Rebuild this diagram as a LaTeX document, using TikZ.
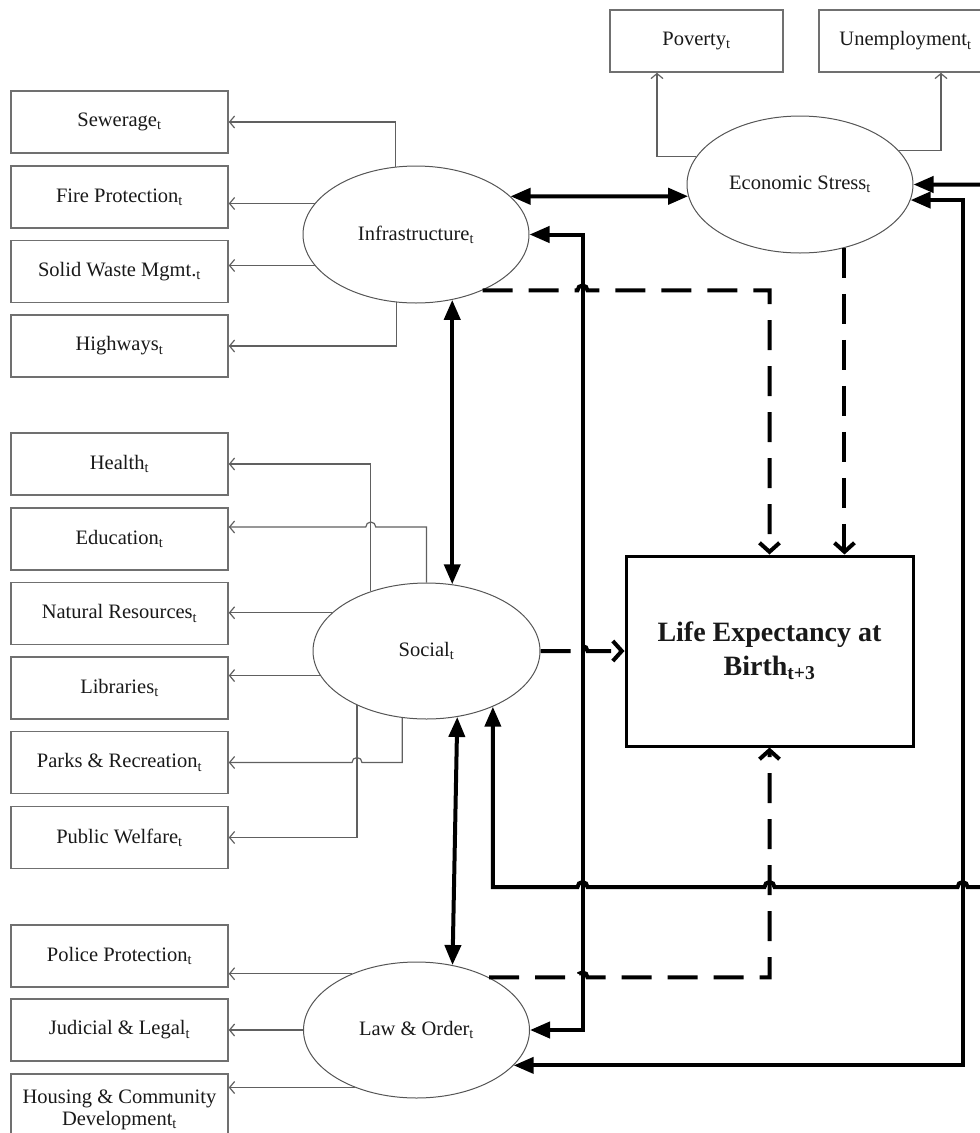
\documentclass[tikz,border=0pt]{standalone}
\usepackage{fontspec}
\setmainfont{Liberation Serif}
\usetikzlibrary{arrows.meta,shapes.geometric,calc}
\definecolor{boxgray}{HTML}{707070}
\definecolor{linegray}{HTML}{606060}
\definecolor{ellgray}{HTML}{555555}
\begin{document}
\begin{tikzpicture}[x=1pt,y=-1pt,
  every node/.style={font=\fontsize{20.5}{23}\selectfont, inner sep=0pt, text=black!90},
  ind/.style={draw=boxgray, line width=1.6pt, minimum width=217pt, minimum height=62pt, align=center},
  lat/.style={ellipse, draw=ellgray, line width=1pt, minimum width=226pt, minimum height=137pt},
  meas/.style={draw=linegray, line width=1.2pt, -{Straight Barb[length=5pt,width=12pt]}},
  cov/.style={line width=4pt, {Triangle[length=20pt,width=16pt]}-{Triangle[length=20pt,width=16pt]}},
  eff/.style={line width=4pt, dash pattern=on 30pt off 16pt, -{Straight Barb[length=9pt,width=20pt]}},
]
\useasboundingbox (0,0) rectangle (980,1133);
\clip (0,0) rectangle (980,1133);

% indicator boxes
\node[ind] (sew)    at (119.5,122)   {Sewerage\textsubscript{t}};
\node[ind] (fire)   at (119.5,197)   {Fire Protection\textsubscript{t}};
\node[ind] (solid)  at (119.5,271.5) {Solid Waste Mgmt.\textsubscript{t}};
\node[ind] (high)   at (119.5,346)   {Highways\textsubscript{t}};
\node[ind] (health) at (119.5,464)   {Health\textsubscript{t}};
\node[ind] (edu)    at (119.5,539)   {Education\textsubscript{t}};
\node[ind] (nat)    at (119.5,613.5) {Natural Resources\textsubscript{t}};
\node[ind] (lib)    at (119.5,688)   {Libraries\textsubscript{t}};
\node[ind] (parks)  at (119.5,762.5) {Parks \& Recreation\textsubscript{t}};
\node[ind] (pw)     at (119.5,837.5) {Public Welfare\textsubscript{t}};
\node[ind] (police) at (119.5,956)   {Police Protection\textsubscript{t}};
\node[ind] (jud)    at (119.5,1030)  {Judicial \& Legal\textsubscript{t}};
\node[ind, minimum height=72pt, font=\fontsize{20.5}{22}\selectfont] (house) at (119.5,1110) {Housing \& Community\\Development\textsubscript{t}};
\node[ind, minimum width=173pt] (pov)   at (696.5,41) {Poverty\textsubscript{t}};
\node[ind, minimum width=173pt] (unemp) at (905.5,41) {Unemployment\textsubscript{t}};

% latent variables
\node[lat] (infra) at (416,234.5) {Infrastructure\textsubscript{t}};
\node[lat] (econ)  at (800,184.5) {Economic Stress\textsubscript{t}};
\node[lat, minimum width=227pt, minimum height=136pt] (social) at (426.5,651) {Social\textsubscript{t}};
\node[lat, minimum height=136pt] (law) at (416.5,1030) {Law \& Order\textsubscript{t}};

% outcome
\node[draw, line width=3pt, minimum width=287pt, minimum height=190pt, align=center,
      font=\fontsize{28}{34}\selectfont\bfseries] (le) at (769.5,651) {Life Expectancy at\\Birth\textsubscript{t+3}};

% helper corners
\coordinate (vA) at ([xshift=53pt]infra.east);
\coordinate (vB) at ([xshift=52pt]econ.-8);
\coordinate (offR) at (1003,887);
\coordinate (eduIn) at ([yshift=12pt]edu.east);

% measurement links
\draw[meas] (infra.107) |- (sew.east);
\draw[meas] (infra.163) -- (infra.163 -| fire.east);
\draw[meas] (infra.197) -- (infra.197 -| solid.east);
\draw[meas] (infra.254) |- (high.east);
\draw[meas] (econ.165) -| ([xshift=-39.5pt]pov.south);
\draw[meas] (econ.19) -| ([xshift=35.5pt]unemp.south);
\draw[meas] (social.133) |- (health.east);
\draw[meas] (social.north) |- ([xshift=5pt]social.133 |- eduIn) arc[start angle=0,end angle=-180,radius=5] -- (eduIn);
\draw[meas] (social.158) -- (social.158 -| nat.east);
\draw[meas] (social.193) -- (social.193 -| lib.east);
\draw[meas] (social.250) |- ([xshift=5pt]social.218 |- parks.east) arc[start angle=0,end angle=-180,radius=5] -- (parks.east);
\draw[meas] (social.218) |- (pw.east);
\draw[meas] (law.139) -- (law.139 -| police.east);
\draw[meas] (law.west) -- (jud.east);
\draw[meas] (law.223) -- (law.223 -| house.east);

% structural covariances
\draw[cov] (infra.22) -- (econ.186);
\draw[cov] (infra.-61) -- (infra.-61 |- social.69);
\draw[cov] (social.-65) -- (law.61);
\draw[cov] (infra.east) -- (vA) |- (law.east);
\draw[cov] (econ.-8) -- (vB) |- (law.-20);
\draw[cov] (econ.east) -| (offR) -- ([xshift=5pt]vB |- offR) arc[start angle=0,end angle=-180,radius=5]
  -- ([xshift=5pt]le.south |- offR) arc[start angle=0,end angle=-180,radius=5]
  -- ([xshift=5pt]vA |- offR) arc[start angle=0,end angle=-180,radius=5]
  -- (social.-40 |- offR) -- (social.-40);

% effects on life expectancy
\draw[eff] (infra.-40) -- ([xshift=-5pt]vA |- infra.-40) arc[start angle=180,end angle=360,radius=5]
  -- (le.north |- infra.-40) -- (le.north);
\draw[eff] (econ.-55) -- (econ.-55 |- le.north);
\draw[eff] (social.east) -- ([xshift=-5pt]vA |- social.east) arc[start angle=180,end angle=360,radius=5] -- (le.west);
\draw[eff] (law.36) -- ([xshift=-5pt]vA |- law.36) arc[start angle=180,end angle=360,radius=5]
  -- (le.south |- law.36) -- (le.south);
\end{tikzpicture}
\end{document}
